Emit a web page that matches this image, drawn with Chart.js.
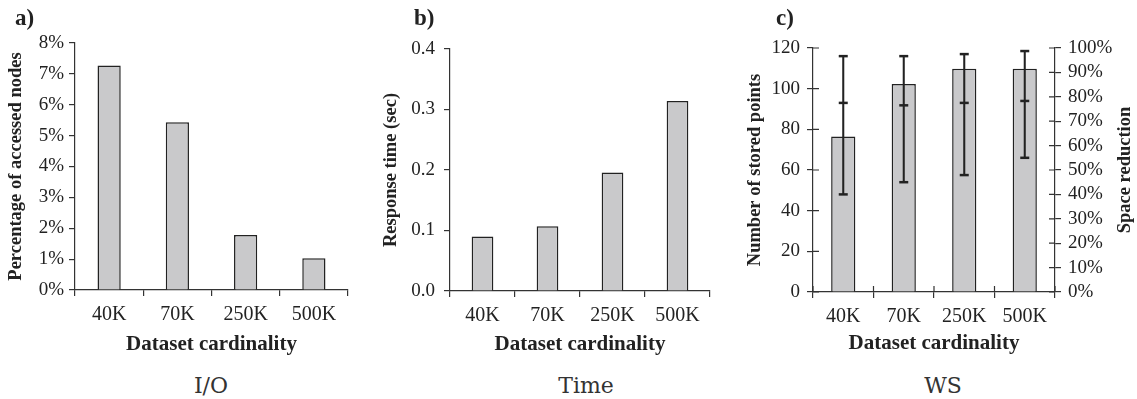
<!DOCTYPE html>
<html>
<head>
<meta charset="utf-8">
<script src="https://cdn.jsdelivr.net/npm/chart.js"></script>
<style>
  body { margin: 0; background: #fff; }
  #wrap { position: relative; width: 1137px; height: 399px; overflow: hidden; }
  canvas { position: absolute; top: 0; }
  .tag { position: absolute; top: 5px; font: bold 23px "Liberation Serif", serif; color: #222; }
  .cap { position: absolute; top: 373px; width: 200px; text-align: center; font: 22px "DejaVu Serif", serif; color: #333; }
</style>
</head>
<body>
<div id="wrap">
  <canvas id="chartA" width="370" height="360" style="left:0px"></canvas>
  <canvas id="chartB" width="370" height="360" style="left:370px"></canvas>
  <canvas id="chartC" width="397" height="360" style="left:740px"></canvas>
  <div class="tag" style="left:15px">a)</div>
  <div class="tag" style="left:414px">b)</div>
  <div class="tag" style="left:776px">c)</div>
  <div class="cap" style="left:111px">I/O</div>
  <div class="cap" style="left:486px">Time</div>
  <div class="cap" style="left:843px">WS</div>
</div>
<script>
// data
const categories = ['40K', '70K', '250K', '500K'];
const accessedPct = [7.27, 5.43, 1.78, 1.03];      // % of accessed nodes
const responseSec = [0.090, 0.107, 0.196, 0.314];  // response time (sec)
const storedPoints = [76.5, 102.3, 109.8, 109.8];  // number of stored points
const storedLow = [48, 54, 57.5, 66];
const storedHigh = [116, 116, 117, 118.5];
const spaceReduction = [77.5, 76.5, 77.5, 78.3];   // % (right axis)

const axisColor = '#333';
const textColor = '#222';
const barFill = '#c9c9cb';
const serif = 'Liberation Serif';

Chart.defaults.animation = false;
Chart.defaults.color = textColor;
Chart.defaults.font.family = serif;
Chart.defaults.plugins.legend.display = false;
Chart.defaults.plugins.tooltip.enabled = false;

function xScale(h, titlePad) {
  return {
    grid: { drawOnChartArea: false, drawTicks: true, tickLength: 6, color: axisColor, lineWidth: 1.2, offset: true },
    border: { color: axisColor, width: 1.2 },
    ticks: { font: { size: 20 }, padding: 7, maxRotation: 0, autoSkip: false },
    title: { display: true, text: 'Dataset cardinality', font: { size: 21, weight: 'bold' }, padding: { top: 4, bottom: titlePad } },
    afterFit: s => { s.height = h; }
  };
}

function yScale(w, title, titlePad, tickPad, extra) {
  return Object.assign({
    grid: { drawOnChartArea: false, drawTicks: true, tickLength: 6, color: axisColor, lineWidth: 1.2 },
    border: { color: axisColor, width: 1.2 },
    title: { display: true, text: title, font: { size: 18.5, weight: 'bold' }, padding: { top: titlePad, bottom: 0 } },
    afterFit: s => { s.width = w; }
  }, extra, { ticks: Object.assign({ font: { size: 19 }, padding: tickPad, autoSkip: false }, extra.ticks) });
}

// a) I/O
new Chart(document.getElementById('chartA'), {
  type: 'bar',
  data: {
    labels: categories,
    datasets: [{ data: accessedPct, backgroundColor: barFill, borderColor: '#222', borderWidth: 1.5,
                 barPercentage: 0.34, categoryPercentage: 1 }]
  },
  options: {
    responsive: false,
    layout: { padding: { left: 0, top: 43, right: 22, bottom: 0 } },
    scales: {
      x: xScale(70, 2.5),
      y: yScale(75, 'Percentage of accessed nodes', 5.6, 5, {
        min: 0, max: 8,
        ticks: { stepSize: 1, callback: v => v + '%' }
      })
    }
  }
});

// b) Time
new Chart(document.getElementById('chartB'), {
  type: 'bar',
  data: {
    labels: categories,
    datasets: [{ data: responseSec, backgroundColor: barFill, borderColor: '#222', borderWidth: 1.5,
                 barPercentage: 0.334, categoryPercentage: 1 }]
  },
  options: {
    responsive: false,
    layout: { padding: { left: 0, top: 49, right: 30, bottom: 0 } },
    scales: {
      x: xScale(69, 2.5),
      y: yScale(80, 'Response time (sec)', 10.6, 9, {
        min: 0, max: 0.4,
        ticks: { stepSize: 0.1, callback: v => v.toFixed(1) }
      })
    }
  }
});

// c) WS - ticks crossing the axes and the right title reading upwards
const crossTicks = {
  id: 'crossTicks',
  afterDraw(chart) {
    const { ctx, chartArea } = chart;
    const { x, y, y1 } = chart.scales;
    ctx.save();
    ctx.strokeStyle = axisColor;
    ctx.lineWidth = 1.2;
    ctx.beginPath();
    y.ticks.forEach((t, i) => {
      const p = y.getPixelForTick(i);
      ctx.moveTo(chartArea.left, p); ctx.lineTo(chartArea.left + 6, p);
    });
    y1.ticks.forEach((t, i) => {
      const p = y1.getPixelForTick(i);
      ctx.moveTo(chartArea.right, p); ctx.lineTo(chartArea.right - 6, p);
    });
    for (let i = 0; i <= categories.length; i++) {
      const p = x.getPixelForValue(i - 0.5);
      ctx.moveTo(p, chartArea.bottom); ctx.lineTo(p, chartArea.bottom - 6);
    }
    ctx.stroke();
    ctx.translate(chart.width - 12, (chartArea.top + chartArea.bottom) / 2);
    ctx.rotate(-Math.PI / 2);
    ctx.fillStyle = textColor;
    ctx.font = 'bold 18.5px "' + serif + '"';
    ctx.textAlign = 'center';
    ctx.textBaseline = 'middle';
    ctx.fillText('Space reduction', 0, 0);
    ctx.restore();
  }
};

const capStyle = { type: 'line', showLine: false, pointStyle: 'line', pointRadius: 4.5,
                   pointBorderWidth: 2.5, pointBorderColor: '#222', pointBackgroundColor: '#222' };

new Chart(document.getElementById('chartC'), {
  type: 'bar',
  data: {
    labels: categories,
    datasets: [
      Object.assign({ data: storedHigh, yAxisID: 'y', order: 0 }, capStyle),
      Object.assign({ data: storedLow, yAxisID: 'y', order: 0 }, capStyle),
      Object.assign({ data: spaceReduction, yAxisID: 'y1', order: 0 }, capStyle),
      { data: storedLow.map((v, i) => [v, storedHigh[i]]), yAxisID: 'y', order: 1, grouped: false,
        backgroundColor: '#222', borderWidth: 0, barThickness: 1.4 },
      { data: storedPoints, yAxisID: 'y', order: 2, grouped: false, backgroundColor: barFill,
        borderColor: '#222', borderWidth: 1.5, barPercentage: 0.4, categoryPercentage: 1 }
    ]
  },
  options: {
    responsive: false,
    layout: { padding: { left: 0, top: 48, right: 0, bottom: 0 } },
    scales: {
      x: xScale(68, 4),
      y: yScale(73, 'Number of stored points', 3.9, 7, {
        min: 0, max: 120,
        ticks: { stepSize: 20 }
      }),
      y1: yScale(82, '', 0, 7, {
        position: 'right', min: 0, max: 100,
        title: { display: false },
        ticks: { stepSize: 10, callback: v => v + '%' }
      })
    }
  },
  plugins: [crossTicks]
});
</script>
</body>
</html>
